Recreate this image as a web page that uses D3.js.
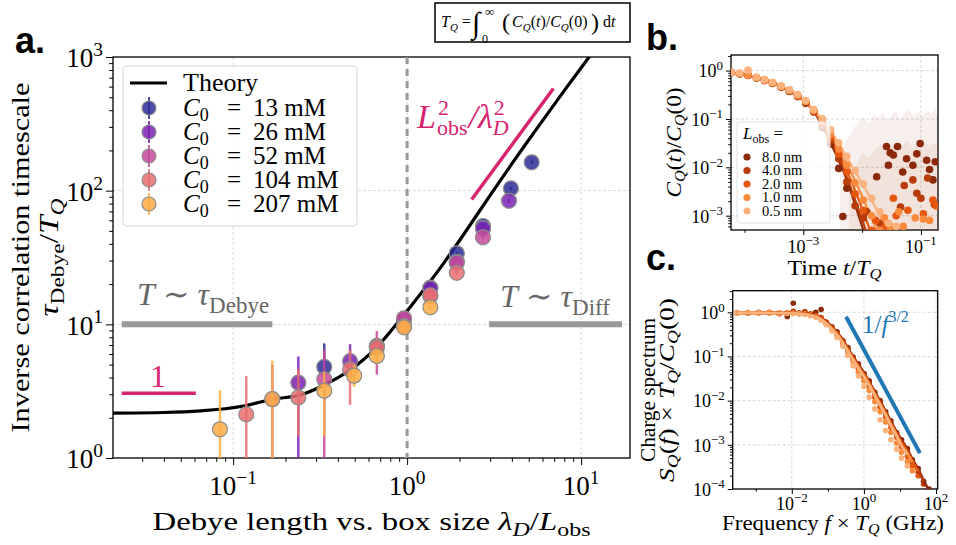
<!DOCTYPE html>
<html>
<head>
<meta charset="utf-8">
<script src="https://cdn.jsdelivr.net/npm/d3@7"></script>
<style>
  body { margin: 0; background: #fff; }
  text { font-family: "Liberation Serif", "DejaVu Serif", serif; fill: #000; }
  .panel { font-family: "Liberation Sans", Arial, sans-serif; font-weight: bold; }
</style>
</head>
<body>
<script>
// ---------------- panel a : data ----------------
var concLabels = ["13", "26", "52", "104", "207"];
var concColors = ["#2d2b96", "#7c22b3", "#c44a9c", "#e86f6e", "#fbad47"];

var ratio13 = [0.334, 0.67, 1.36, 1.93, 2.73, 3.95, 5.2];
var tau13   = [4.8, 6.9, 18.8, 34, 54.4, 104, 163];
var lo13    = [2.7, 6.0, 18.2, 33, 53, 101, 158];
var hi13    = [7.2, 7.9, 19.4, 35, 56, 107, 168];

var ratio26 = [0.237, 0.47, 0.96, 1.36, 1.93, 2.73, 3.85];
var tau26   = [3.66, 5.3, 10.8, 18.6, 29.4, 52.2, 84];
var lo26    = [0.5, 4.0, 9.6, 17.8, 28.5, 50.5, 81];
var hi26    = [5.75, 7.1, 12.0, 19.4, 30.3, 54, 87];

var ratio52 = [0.168, 0.334, 0.67, 0.96, 1.36, 1.93, 2.73];
var tau52   = [2.75, 3.88, 6.8, 11.1, 16.3, 28.9, 44.8];
var lo52    = [0.5, 0.5, 4.2, 9.8, 15.5, 28, 43.5];
var hi52    = [5.0, 6.5, 8.9, 12.3, 17.2, 29.8, 46];

var ratio104 = [0.119, 0.237, 0.47, 0.67, 0.96, 1.36, 1.93];
var tau104   = [2.12, 2.84, 4.6, 6.7, 9.7, 16.5, 24.3];
var lo104    = [0.5, 1.45, 2.5, 5.4, 8.8, 15.8, 23.5];
var hi104    = [4.1, 4.6, 6.4, 8.0, 10.6, 17.3, 25.2];

var ratio207 = [0.084, 0.168, 0.334, 0.496, 0.67, 0.96, 1.36];
var tau207   = [1.64, 2.76, 3.19, 4.13, 5.8, 9.5, 13.4];
var lo207    = [0.5, 0.5, 1.45, 3.4, 5.0, 9.0, 12.9];
var hi207    = [3.22, 5.35, 4.4, 5.0, 6.5, 10.0, 14];

var theoryRatio = [0.0204, 0.04, 0.065, 0.115, 0.168, 0.243, 0.334, 0.47, 0.66, 0.91, 1.09, 1.62, 2.2, 3.13, 4.08, 5.5, 8.0, 11.5, 14];
var theoryTau   = [2.17, 2.19, 2.25, 2.45, 2.75, 2.96, 3.52, 4.55, 6.6, 10.8, 14.5, 28.6, 50.8, 100, 165, 285, 560, 1060, 1500];

var debyeBarX = [0.0229, 0.168], debyeBarY = 10;
var diffBarX = [2.96, 17.2], diffBarY = 10;
var oneLineX = [0.0229, 0.061], oneLineY = 3.05;
var squareLineX = [2.35, 6.93], squareLineY = [86, 582];

// ---------------- panel b : data ----------------
var lobsLabels = ["8.0 nm", "4.0 nm", "2.0 nm", "1.0 nm", "0.5 nm"];
var lobsColors = ["#8b2a0a", "#b83d0b", "#e6580f", "#f98b3d", "#fbb27c"];

var timeGrid = [6.0e-5, 8.3e-5, 1.15e-4, 1.6e-4, 2.2e-4, 3.0e-4, 4.2e-4, 5.8e-4, 8.0e-4, 1.1e-3, 1.5e-3, 2.1e-3, 2.9e-3, 4.0e-3, 5.5e-3, 7.6e-3, 0.0105, 0.0145, 0.020, 0.028, 0.038];
var corr8  = [0.91, 0.86, 0.80, 0.71, 0.63, 0.55, 0.46, 0.38, 0.30, 0.22, 0.145, 0.072, 0.032, 0.014, 0.0055, 0.0017, 0.0005, null, null, null, null];
var corr4  = [0.91, 0.86, 0.80, 0.71, 0.63, 0.55, 0.46, 0.38, 0.30, 0.22, 0.146, 0.078, 0.037, 0.016, 0.0062, 0.0021, 0.0007, 0.0002, null, null, null];
var corr2  = [0.91, 0.86, 0.80, 0.72, 0.63, 0.55, 0.46, 0.38, 0.30, 0.22, 0.148, 0.085, 0.043, 0.020, 0.0085, 0.0033, 0.0012, 0.0004, null, null, null];
var corr1  = [0.91, 0.86, 0.80, 0.72, 0.64, 0.56, 0.47, 0.39, 0.31, 0.23, 0.150, 0.093, 0.050, 0.025, 0.012, 0.0052, 0.0022, 0.0009, 0.00035, null, null];
var corr05 = [0.91, 0.86, 0.81, 0.72, 0.64, 0.56, 0.47, 0.39, 0.31, 0.23, 0.153, 0.100, 0.058, 0.031, 0.016, 0.0082, 0.0042, 0.0021, 0.0010, 0.00045, null];

var dotsB8  = [0.92, 0.85, 0.81, 0.70, 0.64, 0.54, 0.47, 0.37, 0.31, 0.21, 0.14, 0.066, 0.030, 0.0095, 0.0037, null, null, null, null, null, null];
var dotsB4  = [0.90, 0.87, 0.79, 0.72, 0.62, 0.56, 0.45, 0.39, 0.29, 0.22, 0.15, 0.075, 0.035, 0.015, 0.0050, 0.0016, 0.0009, null, null, null, null];
var dotsB2  = [0.91, 0.86, 0.80, 0.71, 0.64, 0.55, 0.47, 0.38, 0.30, 0.23, 0.145, 0.083, 0.041, 0.019, 0.0080, 0.0028, 0.0013, 0.0005, null, null, null];
var dotsB1  = [0.92, 0.87, 0.81, 0.72, 0.63, 0.56, 0.47, 0.39, 0.31, 0.23, 0.152, 0.092, 0.049, 0.024, 0.011, 0.0048, 0.0021, 0.0010, 0.0005, null, null];
var dotsB05 = [0.92, 0.88, 1.02, 0.73, 0.65, 0.57, 0.48, 0.40, 0.32, 0.24, 0.156, 0.101, 0.060, 0.032, 0.017, 0.0086, 0.0045, 0.0023, 0.0012, 0.0007, 0.0006];

var tailT8 = [0.0047, 0.0177, 0.026, 0.028, 0.030, 0.034, 0.040, 0.049, 0.057, 0.073, 0.085, 0.097, 0.125, 0.14, 0.16, 0.175];
var tailV8 = [0.00096, 0.0064, 0.027, 0.011, 0.020, 0.018, 0.027, 0.008, 0.015, 0.011, 0.019, 0.031, 0.014, 0.009, 0.0055, 0.013];
var tailT4 = [0.012, 0.02, 0.045, 0.052, 0.073, 0.085, 0.10, 0.13, 0.17];
var tailV4 = [0.0012, 0.0007, 0.0015, 0.0042, 0.0055, 0.0029, 0.0023, 0.006, 0.0017];
var tailT2 = [0.017, 0.025, 0.034, 0.038, 0.06, 0.11, 0.16, 0.18];
var tailV2 = [0.0008, 0.0006, 0.0023, 0.0010, 0.0013, 0.0011, 0.0021, 0.0016];
var tailT1 = [0.024, 0.03, 0.042, 0.05, 0.08, 0.11, 0.14];
var tailV1 = [0.0009, 0.0006, 0.0012, 0.0006, 0.0009, 0.00085, 0.0008];

var bandT8 = [0.0042, 0.005, 0.006, 0.0075, 0.009, 0.011, 0.013, 0.016, 0.019, 0.023, 0.027, 0.032, 0.038, 0.045, 0.053, 0.063, 0.075, 0.09, 0.105, 0.125, 0.15, 0.175, 0.195];
var bandU8 = [0.022, 0.03, 0.045, 0.07, 0.09, 0.11, 0.08, 0.12, 0.10, 0.14, 0.09, 0.12, 0.15, 0.10, 0.13, 0.16, 0.11, 0.14, 0.12, 0.15, 0.13, 0.16, 0.14];
var bandT4 = [0.006, 0.008, 0.01, 0.013, 0.017, 0.022, 0.028, 0.036, 0.046, 0.058, 0.073, 0.09, 0.11, 0.14, 0.17, 0.195];
var bandU4 = [0.004, 0.012, 0.020, 0.016, 0.025, 0.030, 0.022, 0.033, 0.027, 0.035, 0.025, 0.030, 0.034, 0.028, 0.032, 0.030];

// ---------------- panel c : data ----------------
var freqGrid = [3e-4, 6e-4, 1.2e-3, 2.4e-3, 4.5e-3, 7.5e-3, 0.011, 0.016, 0.023, 0.033, 0.046, 0.065, 0.09, 0.13, 0.18, 0.26, 0.36, 0.5, 0.7, 1.0, 1.4, 2.0, 2.8, 4.0, 5.6, 8.0, 11, 16, 22, 32, 45, 64];
var spec8  = [0.97, 0.97, 0.97, 0.97, 0.97, 0.96, 0.96, 0.95, 0.93, 0.90, 0.85, 0.75, 0.62, 0.47, 0.35, 0.24, 0.155, 0.10, 0.066, 0.043, 0.027, 0.016, 0.0098, 0.0058, 0.0034, 0.0020, 0.0013, 0.0008, 0.00048, 0.00028, 0.00016, 0.00009];
var spec4  = [0.97, 0.97, 0.97, 0.97, 0.97, 0.96, 0.96, 0.95, 0.93, 0.89, 0.84, 0.74, 0.61, 0.46, 0.34, 0.23, 0.15, 0.096, 0.063, 0.041, 0.026, 0.015, 0.0093, 0.0055, 0.0032, 0.0019, 0.0012, 0.00075, 0.00045, 0.00026, 0.00015, null];
var spec2  = [0.97, 0.97, 0.97, 0.97, 0.96, 0.96, 0.95, 0.94, 0.92, 0.88, 0.82, 0.72, 0.59, 0.45, 0.33, 0.22, 0.145, 0.092, 0.060, 0.039, 0.025, 0.0145, 0.0088, 0.0052, 0.0030, 0.0018, 0.0011, 0.0007, 0.00042, 0.00025, null, null];
var spec1  = [0.97, 0.97, 0.97, 0.97, 0.96, 0.96, 0.95, 0.94, 0.91, 0.87, 0.81, 0.70, 0.57, 0.43, 0.32, 0.21, 0.14, 0.088, 0.057, 0.037, 0.024, 0.014, 0.0084, 0.0050, 0.0029, 0.0017, 0.0010, 0.00065, 0.0004, null, null, null];
var spec05 = [0.97, 0.97, 0.97, 0.96, 0.96, 0.95, 0.94, 0.93, 0.90, 0.85, 0.79, 0.68, 0.55, 0.41, 0.30, 0.20, 0.13, 0.084, 0.054, 0.035, 0.022, 0.013, 0.0079, 0.0047, 0.0027, 0.0016, 0.00095, 0.0006, null, null, null, null];

var dotsC8  = [0.98, 0.95, 1.00, 0.96, 0.93, 0.80, 1.60, 0.97, 1.02, 0.88, 1.00, 1.15, 0.58, 0.45, 0.36, 0.22, 0.16, 0.097, 0.068, 0.041, 0.028, 0.0155, 0.010, 0.0056, 0.0035, 0.0019, 0.0013, 0.00082, 0.00046, 0.00029, 0.00015, 0.0001];
var dotsC4  = [0.97, 0.98, 0.96, 1.00, 0.95, 0.97, 1.05, 0.93, 1.00, 0.92, 0.86, 0.76, 0.60, 0.47, 0.33, 0.23, 0.15, 0.095, 0.062, 0.040, 0.025, 0.0145, 0.0090, 0.0050, 0.0030, 0.0018, 0.0011, 0.0007, 0.0004, 0.00024, 0.00013, null];
var dotsC2  = [0.97, 0.99, 0.97, 0.98, 0.97, 0.96, 0.97, 0.95, 0.92, 0.88, 0.83, 0.72, 0.58, 0.44, 0.32, 0.21, 0.135, 0.085, 0.054, 0.034, 0.021, 0.012, 0.0072, 0.0043, 0.0025, 0.0015, 0.0009, 0.00055, 0.00033, 0.0002, null, null];
var dotsC1  = [0.97, 0.98, 0.97, 0.97, 0.96, 0.96, 0.95, 0.94, 0.91, 0.86, 0.80, 0.69, 0.55, 0.41, 0.29, 0.19, 0.12, 0.075, 0.045, 0.028, 0.017, 0.0095, 0.0056, 0.0033, 0.0019, 0.0011, 0.00068, 0.00042, 0.00026, null, null, null];
var dotsC05 = [0.97, 0.97, 0.97, 0.96, 0.96, 0.95, 0.94, 0.93, 0.89, 0.84, 0.77, 0.66, 0.52, 0.38, 0.27, 0.17, 0.105, 0.062, 0.036, 0.021, 0.012, 0.0065, 0.0037, 0.0021, 0.0013, 0.0008, 0.0005, 0.00033, null, null, null, null];

var slopeF = [0.32, 35.7];
var slopeS = [0.795, 0.00065];

// ---------------- helpers ----------------
var svg = d3.select("body").append("svg")
    .attr("width", 956)
    .attr("height", 545);

// rich text: parts with baseline offset b (px, down positive)
function rich(sel, parts) {
  var cur = 0;
  parts.forEach(function(p) {
    var b = p.b || 0;
    var ts = sel.append("tspan").text(p.t).attr("dy", b - cur);
    cur = b;
    if (p.i) ts.attr("font-style", "italic");
    if (p.fs) ts.attr("font-size", p.fs);
    if (p.dx) ts.attr("dx", p.dx);
    if (p.x != null) ts.attr("x", p.x);
  });
  return sel;
}

// text of a fixed length, centred on the origin of its (possibly rotated) frame
function fitted(parent, transform, len, fs, parts) {
  var t = parent.append("text").attr("transform", transform)
    .attr("x", -len / 2).attr("y", 0).attr("font-size", fs)
    .attr("textLength", len).attr("lengthAdjust", "spacingAndGlyphs");
  rich(t, parts);
  return t;
}

function pow10Label(sel, v, fs) {
  var e = Math.round(Math.log10(v));
  var s = e < 0 ? "\u2212" + (-e) : String(e);
  rich(sel, [{t: "10"}, {t: s, fs: fs * 0.72, b: -fs * 0.42}]);
}

function isDecade(v) {
  return Math.abs(Math.log10(v) - Math.round(Math.log10(v))) < 1e-6;
}

// draws frame, grid, ticks, tick labels for one log-log panel
function logFrame(g, x, y, o) {
  var xr = x.range(), yr = y.range();
  var left = xr[0], right = xr[1], bottom = yr[0], top = yr[1];

  o.xGrid.forEach(function(v) {
    g.append("line").attr("x1", x(v)).attr("x2", x(v)).attr("y1", top).attr("y2", bottom)
      .attr("stroke", "#cfcfcf").attr("stroke-width", 0.8).attr("stroke-dasharray", "3,2");
  });
  o.yGrid.forEach(function(v) {
    g.append("line").attr("x1", left).attr("x2", right).attr("y1", y(v)).attr("y2", y(v))
      .attr("stroke", "#cfcfcf").attr("stroke-width", 0.8).attr("stroke-dasharray", "3,2");
  });

  g.append("g").attr("transform", "translate(0," + bottom + ")")
      .call(d3.axisBottom(x).tickValues(o.xMajor).tickSize(o.tick).tickSizeOuter(0).tickFormat(""));
  g.append("g").attr("transform", "translate(0," + bottom + ")")
      .call(d3.axisBottom(x).tickValues(o.xMinor).tickSize(o.tick * 0.55).tickSizeOuter(0).tickFormat(""));
  g.append("g").attr("transform", "translate(" + left + ",0)")
      .call(d3.axisLeft(y).tickValues(o.yMajor).tickSize(o.tick).tickSizeOuter(0).tickFormat(""));
  g.append("g").attr("transform", "translate(" + left + ",0)")
      .call(d3.axisLeft(y).tickValues(o.yMinor).tickSize(o.tick * 0.55).tickSizeOuter(0).tickFormat(""));
  g.selectAll(".domain").remove();
  g.selectAll(".tick line").attr("stroke", "#000").attr("stroke-width", 1);

  o.xLabels.forEach(function(v) {
    var t = g.append("text").attr("x", x(v)).attr("y", bottom + o.xLabDy)
      .attr("text-anchor", "middle").attr("font-size", o.fs);
    pow10Label(t, v, o.fs);
  });
  o.yLabels.forEach(function(v) {
    var t = g.append("text").attr("x", left - o.tick - 3).attr("y", y(v) + o.fs * 0.38)
      .attr("text-anchor", "end").attr("font-size", o.fs);
    pow10Label(t, v, o.fs);
  });

  g.append("rect").attr("x", left).attr("y", top).attr("width", right - left).attr("height", bottom - top)
    .attr("fill", "none").attr("stroke", "#000").attr("stroke-width", 1.3);
}

function clip(id, x, y) {
  var xr = x.range(), yr = y.range();
  svg.append("clipPath").attr("id", id).append("rect")
    .attr("x", xr[0]).attr("y", yr[1]).attr("width", xr[1] - xr[0]).attr("height", yr[0] - yr[1]);
}

function minorTicks(scale) {
  return scale.ticks().filter(function(v) { return !isDecade(v); });
}

// ================= PANEL A =================
var xA = d3.scaleLog().domain([0.0204, 19.1]).range([113, 630]);
var yA = d3.scaleLog().domain([1, 1000]).range([458, 57]);
clip("clipA", xA, yA);

var gA = svg.append("g");
logFrame(gA, xA, yA, {
  xGrid: [0.1, 1, 10], yGrid: [10, 100],
  xMajor: [0.1, 1, 10], xMinor: minorTicks(xA),
  yMajor: [1, 10, 100, 1000], yMinor: minorTicks(yA),
  xLabels: [0.1, 1, 10], yLabels: [1, 10, 100, 1000],
  tick: 7, fs: 27, xLabDy: 37
});

var pA = svg.append("g").attr("clip-path", "url(#clipA)");

// dashed line at lambda_D = L_obs
pA.append("line").attr("x1", xA(1)).attr("x2", xA(1)).attr("y1", yA(1000)).attr("y2", yA(1))
  .attr("stroke", "#999").attr("stroke-width", 3).attr("stroke-dasharray", "7,5");

// grey limit bars
pA.append("line").attr("x1", xA(debyeBarX[0])).attr("x2", xA(debyeBarX[1]))
  .attr("y1", yA(debyeBarY)).attr("y2", yA(debyeBarY))
  .attr("stroke", "#999").attr("stroke-width", 6);
pA.append("line").attr("x1", xA(diffBarX[0])).attr("x2", xA(diffBarX[1]))
  .attr("y1", yA(diffBarY)).attr("y2", yA(diffBarY))
  .attr("stroke", "#999").attr("stroke-width", 6);

// pink guides
pA.append("line").attr("x1", xA(oneLineX[0])).attr("x2", xA(oneLineX[1]))
  .attr("y1", yA(oneLineY)).attr("y2", yA(oneLineY))
  .attr("stroke", "#d6246e").attr("stroke-width", 3.5);
pA.append("line").attr("x1", xA(squareLineX[0])).attr("x2", xA(squareLineX[1]))
  .attr("y1", yA(squareLineY[0])).attr("y2", yA(squareLineY[1]))
  .attr("stroke", "#d6246e").attr("stroke-width", 3.5);

// theory curve
var theoryPts = theoryRatio.map(function(r, i) { return [r, theoryTau[i]]; });
pA.append("path").datum(theoryPts)
  .attr("d", d3.line().x(function(d) { return xA(d[0]); }).y(function(d) { return yA(d[1]); }).curve(d3.curveMonotoneX))
  .attr("fill", "none").attr("stroke", "#000").attr("stroke-width", 3.2);

// simulation points with error bars
var seriesA = [
  [ratio13, tau13, lo13, hi13],
  [ratio26, tau26, lo26, hi26],
  [ratio52, tau52, lo52, hi52],
  [ratio104, tau104, lo104, hi104],
  [ratio207, tau207, lo207, hi207]
];
seriesA.forEach(function(s, k) {
  var pts = s[0].map(function(r, i) { return {x: r, y: s[1][i], lo: s[2][i], hi: s[3][i]}; });
  var g = pA.append("g");
  g.selectAll("line").data(pts).enter().append("line")
    .attr("x1", function(d) { return xA(d.x); })
    .attr("x2", function(d) { return xA(d.x); })
    .attr("y1", function(d) { return yA(d.lo); })
    .attr("y2", function(d) { return yA(d.hi); })
    .attr("stroke", concColors[k]).attr("stroke-width", 2.5).attr("stroke-opacity", 0.85);
  g.selectAll("circle").data(pts).enter().append("circle")
    .attr("cx", function(d) { return xA(d.x); })
    .attr("cy", function(d) { return yA(d.y); })
    .attr("r", 7.5)
    .attr("fill", concColors[k]).attr("fill-opacity", 0.85)
    .attr("stroke", "#8c8c8c").attr("stroke-width", 1.2);
});

// annotations
var tDeb = svg.append("text").attr("x", 137).attr("y", 305).attr("font-size", 32);
rich(tDeb, [{t: "T", i: true}, {t: " \u223C "}, {t: "\u03C4", i: true}, {t: "Debye", fs: 23, b: 8}]);
tDeb.selectAll("tspan").style("fill", "#666");
var tDif = svg.append("text").attr("x", 500).attr("y", 307).attr("font-size", 32);
rich(tDif, [{t: "T", i: true}, {t: " \u223C "}, {t: "\u03C4", i: true}, {t: "Diff", fs: 23, b: 8}]);
tDif.selectAll("tspan").style("fill", "#666");

svg.append("text").attr("x", 158).attr("y", 387).attr("text-anchor", "middle")
  .attr("font-size", 32).style("fill", "#d6246e").text("1");

var tSq = svg.append("text").attr("x", 417).attr("y", 128).attr("font-size", 34);
rich(tSq, [{t: "L", i: true}, {t: "2", fs: 22, b: -13, dx: 2}, {t: "obs", fs: 22, b: 7, dx: -12},
           {t: "/", i: true, dx: 1}, {t: "\u03BB", i: true}, {t: "2", fs: 22, b: -13, dx: 1}, {t: "D", i: true, fs: 22, b: 7, dx: -12}]);
tSq.selectAll("tspan").style("fill", "#d6246e");

// legend
var lg = svg.append("g");
lg.append("rect").attr("x", 123).attr("y", 66).attr("width", 234).attr("height", 160).attr("rx", 4)
  .attr("fill", "#fff").attr("fill-opacity", 0.85).attr("stroke", "#e2e2e2").attr("stroke-width", 1.5);
lg.append("line").attr("x1", 130).attr("x2", 167).attr("y1", 83).attr("y2", 83)
  .attr("stroke", "#000").attr("stroke-width", 3.2);
lg.append("text").attr("x", 183).attr("y", 91).attr("font-size", 26).text("Theory");
concLabels.forEach(function(c, k) {
  var yy = 108 + k * 24;
  lg.append("line").attr("x1", 149).attr("x2", 149).attr("y1", yy - 11).attr("y2", yy + 11)
    .attr("stroke", concColors[k]).attr("stroke-width", 2).attr("stroke-opacity", 0.85);
  lg.append("circle").attr("cx", 149).attr("cy", yy).attr("r", 7)
    .attr("fill", concColors[k]).attr("fill-opacity", 0.85).attr("stroke", "#8c8c8c").attr("stroke-width", 1.2);
  var t = lg.append("text").attr("x", 183).attr("y", yy + 8).attr("font-size", 25);
  rich(t, [{t: "C", i: true}, {t: "0", fs: 18, b: 5}, {t: "=", x: 227}, {t: c, x: 253}, {t: " mM"}]);
});

// axis labels
fitted(svg, "translate(29,257.5) rotate(-90)", 350, 25, [{t: "Inverse correlation timescale"}]);
fitted(svg, "translate(58,257.5) rotate(-90)", 118, 27,
  [{t: "\u03C4", i: true}, {t: "Debye", fs: 19, b: 6}, {t: "/", b: 0}, {t: "T", i: true}, {t: "Q", i: true, fs: 19, b: 6}]);
fitted(svg, "translate(371.5,530)", 438, 26,
  [{t: "Debye length vs. box size "}, {t: "\u03BB", i: true}, {t: "D", i: true, fs: 19, b: 6},
   {t: "/", b: 0}, {t: "L", i: true}, {t: "obs", fs: 19, b: 6}]);

svg.append("text").attr("class", "panel").attr("x", 15).attr("y", 53).attr("font-size", 36).text("a.");

// formula box
svg.append("rect").attr("x", 435).attr("y", 3).attr("width", 195).attr("height", 39)
  .attr("fill", "#fff").attr("stroke", "#000").attr("stroke-width", 1.5);
var fm = svg.append("text").attr("x", 441).attr("y", 27).attr("font-size", 16);
rich(fm, [{t: "T", i: true}, {t: "Q", i: true, fs: 11, b: 4}, {t: " = ", b: 0}]);
svg.append("text").attr("x", 472).attr("y", 33).attr("font-size", 30).text("\u222B");
svg.append("text").attr("x", 482).attr("y", 43).attr("font-size", 12).text("0");
svg.append("text").attr("x", 485).attr("y", 16).attr("font-size", 13).text("\u221E");
svg.append("text").attr("x", 502).attr("y", 30).attr("font-size", 24).text("(");
var fm2 = svg.append("text").attr("x", 512).attr("y", 27).attr("font-size", 16);
rich(fm2, [{t: "C", i: true}, {t: "Q", i: true, fs: 11, b: 4}, {t: "(", b: 0}, {t: "t", i: true}, {t: ")/"},
           {t: "C", i: true}, {t: "Q", i: true, fs: 11, b: 4}, {t: "(0)", b: 0}]);
svg.append("text").attr("x", 591).attr("y", 30).attr("font-size", 24).text(")");
var fm3 = svg.append("text").attr("x", 603).attr("y", 27).attr("font-size", 16);
rich(fm3, [{t: "d"}, {t: "t", i: true}]);

// ================= PANEL B =================
var xB = d3.scaleLog().domain([5.9e-5, 0.195]).range([731, 938]);
var yB = d3.scaleLog().domain([5.06e-4, 2.1]).range([230, 55]);
clip("clipB", xB, yB);

var gB = svg.append("g");
logFrame(gB, xB, yB, {
  xGrid: [1e-3, 1e-1], yGrid: [1e-3, 1e-2, 1e-1, 1],
  xMajor: [1e-3, 1e-1], xMinor: [1e-4, 1e-2],
  yMajor: [1e-3, 1e-2, 1e-1, 1], yMinor: minorTicks(yB),
  xLabels: [1e-3, 1e-1], yLabels: [1e-3, 1e-2, 1e-1, 1],
  tick: 5, fs: 18, xLabDy: 23
});

var pB = svg.append("g").attr("clip-path", "url(#clipB)");
var areaB = d3.area().x(function(d) { return xB(d[0]); }).y0(yB.range()[0] + 20).y1(function(d) { return yB(d[1]); });
pB.append("path").datum(bandT8.map(function(t, i) { return [t, bandU8[i]]; }))
  .attr("d", areaB).attr("fill", lobsColors[0]).attr("fill-opacity", 0.07);
pB.append("path").datum(bandT4.map(function(t, i) { return [t, bandU4[i]]; }))
  .attr("d", areaB).attr("fill", lobsColors[1]).attr("fill-opacity", 0.08);

var corrSeries = [corr8, corr4, corr2, corr1, corr05];
var dotsBSeries = [dotsB8, dotsB4, dotsB2, dotsB1, dotsB05];
var tailsT = [tailT8, tailT4, tailT2, tailT1, []];
var tailsV = [tailV8, tailV4, tailV2, tailV1, []];
var lineB = d3.line().defined(function(d) { return d[1] != null; })
  .x(function(d) { return xB(d[0]); }).y(function(d) { return yB(d[1]); }).curve(d3.curveMonotoneX);

corrSeries.forEach(function(s, k) {
  pB.append("path").datum(timeGrid.map(function(t, i) { return [t, s[i]]; }))
    .attr("d", lineB).attr("fill", "none").attr("stroke", lobsColors[k]).attr("stroke-width", 2.2);
});
dotsBSeries.forEach(function(s, k) {
  var pts = timeGrid.map(function(t, i) { return [t, s[i]]; }).filter(function(d) { return d[1] != null; });
  tailsT[k].forEach(function(t, i) { pts.push([t, tailsV[k][i]]); });
  pB.append("g").selectAll("circle").data(pts).enter().append("circle")
    .attr("cx", function(d) { return xB(d[0]); }).attr("cy", function(d) { return yB(d[1]); })
    .attr("r", 3.8).attr("fill", lobsColors[k]);
});

// legend b
var lgB = svg.append("g");
lgB.append("rect").attr("x", 737).attr("y", 122).attr("width", 93).attr("height", 101).attr("rx", 3)
  .attr("fill", "#fff").attr("fill-opacity", 0.8).attr("stroke", "#e2e2e2");
var lt = lgB.append("text").attr("x", 743).attr("y", 139).attr("font-size", 17);
rich(lt, [{t: "L", i: true}, {t: "obs", fs: 12, b: 4}, {t: " =", b: 0}]);
lobsLabels.forEach(function(l, k) {
  var yy = 157 + k * 13.5;
  lgB.append("circle").attr("cx", 747).attr("cy", yy).attr("r", 3.6).attr("fill", lobsColors[k]);
  lgB.append("text").attr("x", 762).attr("y", yy + 4.5).attr("font-size", 14.5).text(l);
});

fitted(svg, "translate(681,142.5) rotate(-90)", 110, 20,
  [{t: "C", i: true}, {t: "Q", i: true, fs: 14, b: 4}, {t: "(", b: 0}, {t: "t", i: true}, {t: ")/"},
   {t: "C", i: true}, {t: "Q", i: true, fs: 14, b: 4}, {t: "(0)", b: 0}]);
fitted(svg, "translate(834.5,275)", 94, 20,
  [{t: "Time "}, {t: "t", i: true}, {t: "/"}, {t: "T", i: true}, {t: "Q", i: true, fs: 14, b: 4}]);

svg.append("text").attr("class", "panel").attr("x", 646).attr("y", 50).attr("font-size", 36).text("b.");

// ================= PANEL C =================
var xC = d3.scaleLog().domain([2.3e-4, 111]).range([732.7, 937.7]);
var yC = d3.scaleLog().domain([1e-4, 3.08]).range([489, 290.7]);
clip("clipC", xC, yC);

var gC = svg.append("g");
logFrame(gC, xC, yC, {
  xGrid: [1e-2, 1, 100], yGrid: [1e-3, 1e-2, 1e-1, 1],
  xMajor: [1e-2, 1, 100], xMinor: [1e-3, 1e-1, 10],
  yMajor: [1e-4, 1e-3, 1e-2, 1e-1, 1], yMinor: minorTicks(yC),
  xLabels: [1e-2, 1, 100], yLabels: [1e-4, 1e-3, 1e-2, 1e-1, 1],
  tick: 5, fs: 18, xLabDy: 21
});

var pC = svg.append("g").attr("clip-path", "url(#clipC)");
var specSeries = [spec8, spec4, spec2, spec1, spec05];
var dotsCSeries = [dotsC8, dotsC4, dotsC2, dotsC1, dotsC05];
var lineC = d3.line().defined(function(d) { return d[1] != null; })
  .x(function(d) { return xC(d[0]); }).y(function(d) { return yC(d[1]); }).curve(d3.curveMonotoneX);

dotsCSeries.forEach(function(s, k) {
  var pts = freqGrid.map(function(f, i) { return [f, s[i]]; }).filter(function(d) { return d[1] != null; });
  pC.append("g").selectAll("circle").data(pts).enter().append("circle")
    .attr("cx", function(d) { return xC(d[0]); }).attr("cy", function(d) { return yC(d[1]); })
    .attr("r", 2.8).attr("fill", lobsColors[k]);
});
specSeries.forEach(function(s, k) {
  pC.append("path").datum(freqGrid.map(function(f, i) { return [f, s[i]]; }))
    .attr("d", lineC).attr("fill", "none").attr("stroke", lobsColors[k]).attr("stroke-width", 2.6);
});

pC.append("line").attr("x1", xC(slopeF[0])).attr("x2", xC(slopeF[1]))
  .attr("y1", yC(slopeS[0])).attr("y2", yC(slopeS[1]))
  .attr("stroke", "#1f77b4").attr("stroke-width", 4);
var tf = svg.append("text").attr("x", 862).attr("y", 333).attr("font-size", 25);
rich(tf, [{t: "1/"}, {t: "f", i: true}, {t: "3/2", fs: 16, b: -11}]);
tf.selectAll("tspan").style("fill", "#1f77b4");

fitted(svg, "translate(655,390) rotate(-90)", 144, 20, [{t: "Charge spectrum"}]);
fitted(svg, "translate(674,390) rotate(-90)", 184, 20,
  [{t: "S", i: true}, {t: "Q", i: true, fs: 14, b: 4}, {t: "(", b: 0}, {t: "f", i: true}, {t: ") \u00D7 "},
   {t: "T", i: true}, {t: "Q", i: true, fs: 14, b: 4}, {t: "/", b: 0}, {t: "C", i: true},
   {t: "Q", i: true, fs: 14, b: 4}, {t: "(0)", b: 0}]);
fitted(svg, "translate(833,530)", 222, 20,
  [{t: "Frequency "}, {t: "f", i: true}, {t: " \u00D7 "}, {t: "T", i: true}, {t: "Q", i: true, fs: 14, b: 4},
   {t: " (GHz)", b: 0}]);

svg.append("text").attr("class", "panel").attr("x", 646).attr("y", 270).attr("font-size", 36).text("c.");
</script>
</body>
</html>
